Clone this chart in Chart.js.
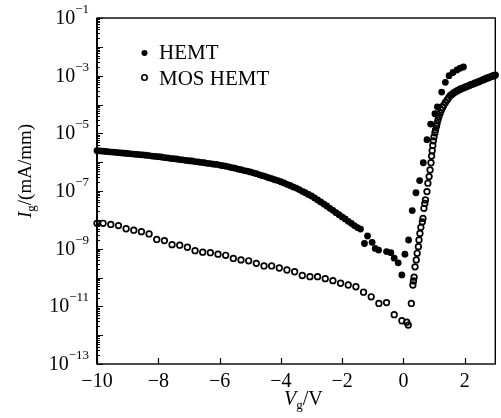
<!DOCTYPE html>
<html>
<head>
<meta charset="utf-8">
<script src="https://cdn.jsdelivr.net/npm/chart.js@4.4.1/dist/chart.umd.min.js"></script>
<style>
  html, body { margin: 0; padding: 0; background: #fff; }
  #chart { display: block; }
</style>
</head>
<body>
<canvas id="chart" width="501" height="418"></canvas>
<script>
// Gate voltage (V) and log10 of gate current (mA/mm)
const hemtV = [
  -10.0, -9.9, -9.8, -9.7, -9.6, -9.5, -9.4, -9.3, -9.2, -9.1,
  -9.0, -8.9, -8.8, -8.7, -8.6, -8.5, -8.4, -8.3, -8.2, -8.1,
  -8.0, -7.9, -7.8, -7.7, -7.6, -7.5, -7.4, -7.3, -7.2, -7.1,
  -7.0, -6.9, -6.8, -6.7, -6.6, -6.5, -6.4, -6.3, -6.2, -6.1,
  -6.0, -5.9, -5.8, -5.7, -5.6, -5.5, -5.4, -5.3, -5.2, -5.1,
  -5.0, -4.9, -4.8, -4.7, -4.6, -4.5, -4.4, -4.3, -4.2, -4.1,
  -4.0, -3.9, -3.8, -3.7, -3.6, -3.5, -3.4, -3.3, -3.2, -3.1,
  -3.0, -2.9, -2.8, -2.7, -2.6, -2.5, -2.4, -2.3, -2.2, -2.1,
  -2.0, -1.9, -1.8, -1.7, -1.6, -1.5, -1.4,
  -1.27, -1.17, -1.02, -0.92, -0.81, -0.55, -0.41, -0.30, -0.17, -0.05,
  0.05, 0.17, 0.29, 0.41, 0.53, 0.65, 0.77, 0.89, 1.03, 1.11,
  1.25, 1.37, 1.49, 1.62, 1.75, 1.85, 1.96
];
const hemtLogI = [
  -5.60, -5.61, -5.62, -5.63, -5.64, -5.65, -5.66, -5.67, -5.68, -5.69,
  -5.70, -5.71, -5.72, -5.73, -5.74, -5.75, -5.76, -5.77, -5.79, -5.80,
  -5.81, -5.82, -5.84, -5.85, -5.87, -5.88, -5.89, -5.91, -5.92, -5.94,
  -5.95, -5.96, -5.98, -5.99, -6.01, -6.02, -6.04, -6.05, -6.07, -6.08,
  -6.10, -6.12, -6.14, -6.16, -6.19, -6.21, -6.24, -6.26, -6.29, -6.31,
  -6.34, -6.37, -6.40, -6.44, -6.47, -6.50, -6.54, -6.57, -6.61, -6.64,
  -6.68, -6.72, -6.77, -6.81, -6.86, -6.90, -6.95, -7.01, -7.06, -7.12,
  -7.17, -7.24, -7.31, -7.38, -7.45, -7.52, -7.60, -7.67, -7.75, -7.82,
  -7.90, -7.97, -8.05, -8.12, -8.20, -8.27, -8.32,
  -8.82, -8.56, -8.78, -8.99, -9.05, -9.10, -9.14, -9.33, -9.49, -9.91,
  -9.19, -8.70, -7.68, -7.06, -6.64, -6.02, -5.22, -4.68, -4.32, -4.08,
  -3.57, -3.23, -3.00, -2.89, -2.80, -2.74, -2.70
];

const mosV = [
  -10.0, -9.8, -9.55, -9.3, -9.05, -8.8, -8.55, -8.3, -8.05, -7.8,
  -7.55, -7.3, -7.05, -6.8, -6.55, -6.3, -6.05, -5.8, -5.55, -5.3,
  -5.05, -4.8, -4.55, -4.3, -4.05, -3.8, -3.55, -3.3, -3.05, -2.8,
  -2.55, -2.3, -2.05, -1.8, -1.55, -1.3, -1.05, -0.8, -0.55, -0.3,
  -0.05, 0.11, 0.16,
  0.26, 0.31, 0.33, 0.35, 0.38, 0.42, 0.45, 0.49, 0.51, 0.54,
  0.57, 0.62, 0.64, 0.67, 0.70, 0.72, 0.77, 0.80, 0.84, 0.87,
  0.90, 0.92, 0.94, 0.96, 0.98, 1.00, 1.03, 1.05, 1.08, 1.10,
  1.13, 1.16, 1.20, 1.24, 1.28, 1.32, 1.37, 1.43, 1.48, 1.53,
  1.58, 1.64, 1.70, 1.75, 1.80, 1.86, 1.91, 1.97, 2.03, 2.09,
  2.15, 2.21, 2.27, 2.33, 2.39, 2.46, 2.52, 2.59, 2.65, 2.72,
  2.78, 2.84, 2.90, 2.95, 3.00
];
const mosLogI = [
  -8.12, -8.12, -8.16, -8.20, -8.31, -8.36, -8.41, -8.49, -8.68, -8.72,
  -8.86, -8.88, -8.95, -9.07, -9.12, -9.14, -9.19, -9.23, -9.34, -9.39,
  -9.42, -9.51, -9.60, -9.60, -9.67, -9.74, -9.80, -9.93, -9.97, -9.97,
  -10.04, -10.11, -10.20, -10.26, -10.32, -10.51, -10.67, -10.90, -10.87, -11.29,
  -11.50, -11.55, -11.65,
  -10.90, -10.26, -10.12, -9.99, -9.63, -9.39, -9.16, -8.93, -8.70, -8.47,
  -8.26, -8.07, -7.95, -7.60, -7.43, -7.31, -7.02, -6.73, -6.50, -6.27,
  -6.02, -5.79, -5.60, -5.42, -5.26, -5.12, -4.98, -4.88, -4.75, -4.65,
  -4.53, -4.42, -4.30, -4.19, -4.10, -4.02, -3.93, -3.84, -3.76, -3.69,
  -3.65, -3.60, -3.56, -3.53, -3.50, -3.47, -3.44, -3.42, -3.39, -3.37,
  -3.34, -3.31, -3.29, -3.26, -3.24, -3.21, -3.18, -3.15, -3.12, -3.09,
  -3.07, -3.04, -3.02, -3.00, -2.98
];

// Axis labels
const xTicks = [-10, -8, -6, -4, -2, 0, 2];
const yTickExps = [-1, -3, -5, -7, -9, -11, -13];
const seriesNames = ['HEMT', 'MOS HEMT'];

const SERIF = '"Liberation Serif", "Times New Roman", serif';
const minus = n => (n < 0 ? '\u2212' + (-n) : String(n));

// Draws the boxed frame, inward ticks, tick labels, titles and legend
const axesPlugin = {
  id: 'axesPlugin',
  afterDatasetsDraw(chart) {
    const ctx = chart.ctx;
    const xs = chart.scales.x, ys = chart.scales.y;
    const { left, right, top, bottom } = chart.chartArea;
    ctx.save();
    ctx.strokeStyle = '#000';
    ctx.fillStyle = '#000';

    // frame
    ctx.lineWidth = 1.4;
    ctx.strokeRect(left, top, right - left, bottom - top);
    ctx.lineWidth = 2;
    ctx.beginPath();
    ctx.moveTo(left, top); ctx.lineTo(left, bottom);
    ctx.stroke();

    // y ticks (decades + minor)
    ctx.lineWidth = 1;
    ctx.beginPath();
    for (let k = -13; k <= -1; k++) {
      for (let m = 1; m <= 9; m++) {
        if (k === -1 && m > 1) break;
        const y = Math.round(ys.getPixelForValue(m * Math.pow(10, k))) + 0.5;
        const len = m === 1 ? 6 : 3;
        ctx.moveTo(left, y); ctx.lineTo(left + len, y);
      }
    }
    ctx.stroke();

    // x ticks
    ctx.lineWidth = 1.2;
    ctx.beginPath();
    xTicks.forEach(v => {
      const x = Math.round(xs.getPixelForValue(v)) + 0.5;
      ctx.moveTo(x, bottom); ctx.lineTo(x, bottom - 6);
    });
    ctx.stroke();

    // y tick labels 10^n
    ctx.textAlign = 'right';
    ctx.textBaseline = 'alphabetic';
    yTickExps.forEach(e => {
      const y = ys.getPixelForValue(Math.pow(10, e));
      const sup = minus(e);
      ctx.font = '13px ' + SERIF;
      const sw = ctx.measureText(sup).width;
      ctx.fillText(sup, 89, y - 5);
      ctx.font = '20px ' + SERIF;
      ctx.fillText('10', 89 - sw, y + 6);
    });

    // x tick labels
    ctx.textAlign = 'center';
    ctx.font = '20px ' + SERIF;
    xTicks.forEach(v => {
      ctx.fillText(minus(v), xs.getPixelForValue(v), 387);
    });

    // x title: V_g/V
    ctx.textAlign = 'left';
    let x = 284;
    ctx.font = 'italic 20px ' + SERIF;
    ctx.fillText('V', x, 405);
    x += ctx.measureText('V').width;
    ctx.font = '13px ' + SERIF;
    ctx.fillText('g', x, 409);
    x += ctx.measureText('g').width;
    ctx.font = '20px ' + SERIF;
    ctx.fillText('/V', x, 405);

    // y title: I_g/(mA/mm)
    ctx.save();
    ctx.translate(31, 218);
    ctx.rotate(-Math.PI / 2);
    let t = 0;
    ctx.font = 'italic 19px ' + SERIF;
    ctx.fillText('I', t, 0);
    t += ctx.measureText('I').width;
    ctx.font = '13px ' + SERIF;
    ctx.fillText('g', t, 4);
    t += ctx.measureText('g').width;
    ctx.font = '19px ' + SERIF;
    ctx.fillText('/(mA/mm)', t, 0);
    ctx.restore();

    // legend
    ctx.beginPath();
    ctx.arc(144.5, 53, 3, 0, Math.PI * 2);
    ctx.fill();
    ctx.lineWidth = 1.6;
    ctx.beginPath();
    ctx.arc(144.5, 77.5, 2.7, 0, Math.PI * 2);
    ctx.stroke();
    ctx.font = '21px ' + SERIF;
    ctx.fillText(seriesNames[0], 159, 59);
    ctx.fillText(seriesNames[1], 159, 85);

    ctx.restore();
  }
};

new Chart(document.getElementById('chart'), {
  type: 'scatter',
  data: {
    datasets: [
      {
        label: seriesNames[0],
        data: hemtV.map((v, i) => ({ x: v, y: Math.pow(10, hemtLogI[i]) })),
        pointRadius: 3.4,
        pointBackgroundColor: '#000',
        pointBorderColor: '#000',
        pointBorderWidth: 0,
        clip: false
      },
      {
        label: seriesNames[1],
        data: mosV.map((v, i) => ({ x: v, y: Math.pow(10, mosLogI[i]) })),
        pointRadius: 2.8,
        pointBackgroundColor: 'rgba(0,0,0,0)',
        pointBorderColor: '#000',
        pointBorderWidth: 1.7,
        clip: false
      }
    ]
  },
  options: {
    responsive: false,
    animation: false,
    events: [],
    layout: { padding: { left: 0, right: 2, top: 18, bottom: 0 } },
    plugins: {
      legend: { display: false },
      tooltip: { enabled: false }
    },
    scales: {
      x: {
        type: 'linear', min: -10, max: 3,
        ticks: { display: false },
        grid: { display: false },
        border: { display: false },
        afterFit: s => { s.height = 54; }
      },
      y: {
        type: 'logarithmic', min: 1e-13, max: 1e-1,
        ticks: { display: false },
        grid: { display: false },
        border: { display: false },
        afterFit: s => { s.width = 97; }
      }
    }
  },
  plugins: [axesPlugin]
});
</script>
</body>
</html>
